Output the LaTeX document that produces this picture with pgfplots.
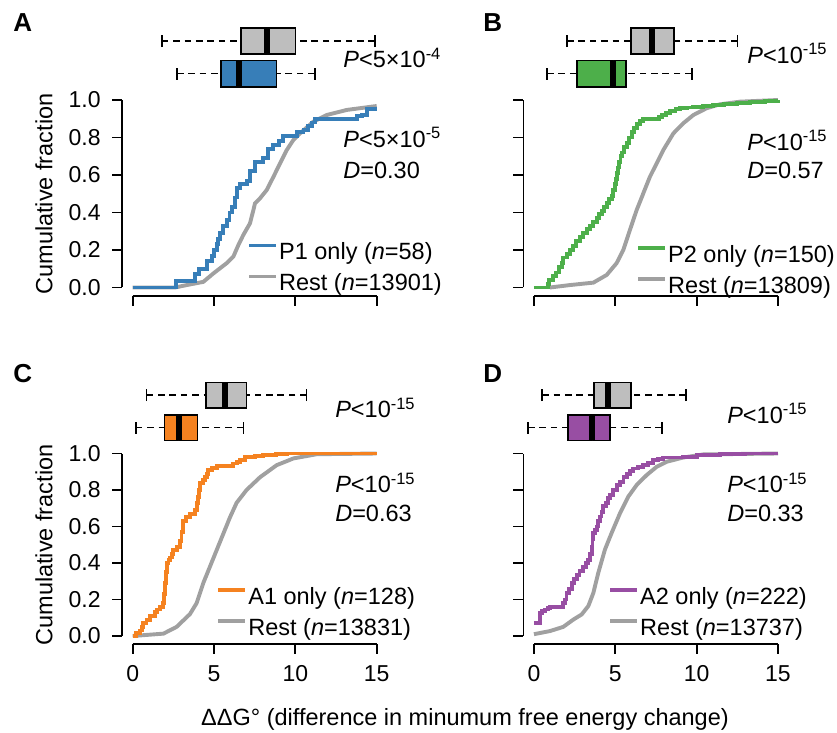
\documentclass[border=0pt]{standalone}
\usepackage{pgfplots}
\pgfplotsset{compat=1.18}
\usepgfplotslibrary{statistics}
\usepackage{fontspec}
\setmainfont{Liberation Sans}

\definecolor{cblue}{HTML}{377EB8}
\definecolor{cgreen}{HTML}{4DAF4A}
\definecolor{corange}{HTML}{F58220}
\definecolor{cpurple}{HTML}{984EA3}
\definecolor{rline}{HTML}{A0A0A0}
\definecolor{rbox}{HTML}{BEBEBE}

\newcommand{\fs}{\fontsize{11.75}{13.5}\selectfont}

\pgfplotsset{
  cdf/.style={
    scale only axis, width=127.3pt,
    xmin=-0.65, xmax=15, ymax=1,
    axis x line*=bottom, axis y line*=left,
    axis line style={line width=0.9pt},
    x axis line style={shorten <=5.3pt},
    xtick={0,5,10,15}, ytick={0,0.2,0.4,0.6,0.8,1},
    tick align=outside, major tick length=5pt,
    tick style={line width=0.9pt, black},
    clip=false,
    /pgf/number format/assume math mode=true,
    tick label style={font=\fontsize{11.5}{13}\selectfont},
    xticklabel style={yshift=-2.3pt},
    yticklabel style={xshift=-2.2pt},
    y tick label style={/pgf/number format/fixed,
      /pgf/number format/fixed zerofill, /pgf/number format/precision=1},
    legend style={draw=none, fill=none, inner sep=0pt, font=\fs,
      row sep=3.1pt, anchor=north west,
      nodes={inner sep=0.5pt, text height=8.8pt, text depth=2.6pt},
      /tikz/every even column/.append style={column sep=1pt}},
    legend cell align=left,
    legend image code/.code={\draw[#1] (0pt,4pt) -- (13.5pt,4pt);},
  },
  toprow/.style={ymin=-0.0453, height=98pt, y axis line style={shorten <=4.25pt}},
  botrow/.style={ymin=-0.0416, height=95.05pt, y axis line style={shorten <=3.8pt}},
  bxp/.style={forget plot, draw=black, line width=0.75pt, fill=#1,
    boxplot/box extend=0.14, boxplot/whisker extend=0.065,
    boxplot/every median/.style={line width=3pt},
    boxplot/draw/lower whisker/.code={
      \draw[line width=0.75pt, dash pattern=on 3.3pt off 2.4pt, fill=none]
        (boxplot cs:\pgfplotsboxplotvalue{lower whisker}) --
        (boxplot cs:\pgfplotsboxplotvalue{lower quartile});
      \draw[line width=0.75pt, fill=none]
        (boxplot whisker cs:\pgfplotsboxplotvalue{lower whisker},0) --
        (boxplot whisker cs:\pgfplotsboxplotvalue{lower whisker},1);
    },
    boxplot/draw/upper whisker/.code={
      \draw[line width=0.75pt, dash pattern=on 3.3pt off 2.4pt, fill=none]
        (boxplot cs:\pgfplotsboxplotvalue{upper whisker}) --
        (boxplot cs:\pgfplotsboxplotvalue{upper quartile});
      \draw[line width=0.75pt, fill=none]
        (boxplot whisker cs:\pgfplotsboxplotvalue{upper whisker},0) --
        (boxplot whisker cs:\pgfplotsboxplotvalue{upper whisker},1);
    },
  },
  cline/.style={line width=1.95pt, #1},
}

\begin{document}
\begin{tikzpicture}[font=\fs]
\useasboundingbox (0,0) rectangle (418.5pt,-366.5pt);

% ---------- A ----------
\begin{axis}[cdf, toprow, at={(61.05pt,-148pt)}, anchor=south west,
  xticklabels={},
  legend style={at={(0.49,0.282)}}]
  \addplot[bxp=rbox, boxplot prepared={lower whisker=1.79, lower quartile=6.67,
    median=8.27, upper quartile=10.0, upper whisker=14.9, draw position=1.315}]
    coordinates {};
  \addplot[bxp=cblue, boxplot prepared={lower whisker=2.72, lower quartile=5.43,
    median=6.54, upper quartile=8.83, upper whisker=11.2, draw position=1.14}]
    coordinates {};
  \addplot[cline=rline, forget plot] coordinates {
    (0,0) (2.6,0) (3.32,0.013) (4.34,0.03) (4.96,0.075) (5.78,0.13) (6.19,0.165)
    (6.5,0.227) (6.8,0.28) (7.21,0.342) (7.42,0.413) (7.52,0.449) (7.83,0.476)
    (8.24,0.52) (8.65,0.59) (9.06,0.662) (9.47,0.733) (9.88,0.787) (10.29,0.822)
    (11.1,0.884) (11.93,0.92) (13.16,0.947) (15,0.968)};
  \addplot[cline=cblue, const plot, forget plot] coordinates {
    (0,0) (2.64,0.035) (3.83,0.07) (4.10,0.10) (4.59,0.14) (4.86,0.17) (5.0,0.2)
    (5.16,0.23) (5.27,0.26) (5.37,0.29) (5.57,0.33) (5.78,0.36) (5.95,0.40)
    (6.09,0.43) (6.3,0.48) (6.43,0.53) (6.60,0.55) (7.0,0.57) (7.21,0.62)
    (7.52,0.67) (8.0,0.69) (8.34,0.74) (8.65,0.76) (9.00,0.78) (9.26,0.81)
    (9.7,0.81) (10.08,0.83) (10.5,0.84) (10.8,0.86) (11.0,0.88) (11.21,0.90)
    (13.77,0.915) (14.1,0.92) (14.39,0.95) (15,0.95)};
  \addlegendimage{cline=cblue}
  \addlegendentry{P1 only (\textit{n}=58)}
  \addlegendimage{cline=rline}
  \addlegendentry{Rest (\textit{n}=13901)}
  \node[anchor=base west, inner sep=0pt] at (axis cs:12.93,1.171)
    {\textit{P}<5×10\textsuperscript{-4}};
  \node[anchor=base west, inner sep=0pt] at (axis cs:12.93,0.749)
    {\textit{P}<5×10\textsuperscript{-5}};
  \node[anchor=base west, inner sep=0pt] at (axis cs:12.93,0.584)
    {\textit{D}=0.30};
\end{axis}

% ---------- B ----------
\begin{axis}[cdf, toprow, at={(261.7pt,-148pt)}, anchor=south west,
  xticklabels={}, yticklabels={},
  legend style={at={(0.442,0.27)}}]
  \addplot[bxp=rbox, boxplot prepared={lower whisker=2.03, lower quartile=5.96,
    median=7.25, upper quartile=8.6, upper whisker=12.5, draw position=1.315}]
    coordinates {};
  \addplot[bxp=cgreen, boxplot prepared={lower whisker=0.8, lower quartile=2.64,
    median=4.86, upper quartile=5.65, upper whisker=9.7, draw position=1.14}]
    coordinates {};
  \addplot[cline=rline, forget plot] coordinates {
    (0.98,0) (2.21,0.013) (3.65,0.026) (4.47,0.067) (5.08,0.13) (5.49,0.2)
    (5.9,0.307) (6.31,0.413) (6.72,0.502) (7.13,0.591) (7.54,0.662) (7.95,0.733)
    (8.57,0.822) (9.18,0.876) (9.80,0.92) (10.61,0.956) (11.43,0.977)
    (12.66,0.991) (15,1.0)};
  \addplot[cline=cgreen, const plot, forget plot] coordinates {
    (0,0) (0.88,0.02) (0.95,0.04) (1.19,0.06) (1.35,0.08) (1.55,0.11) (1.70,0.13)
    (1.80,0.16) (2.01,0.18) (2.2,0.20) (2.42,0.22) (2.6,0.25) (2.83,0.27)
    (3.03,0.29) (3.25,0.31) (3.44,0.33) (3.65,0.35) (3.85,0.37) (4.0,0.39)
    (4.16,0.41) (4.3,0.43) (4.47,0.45) (4.6,0.47) (4.77,0.49) (4.88,0.52)
    (4.98,0.55) (5.05,0.58) (5.12,0.61) (5.18,0.64) (5.25,0.67) (5.32,0.70)
    (5.39,0.72) (5.55,0.75) (5.70,0.77) (5.85,0.80) (6.0,0.83) (6.15,0.85)
    (6.31,0.87) (6.5,0.89) (6.72,0.90) (7.54,0.90) (7.7,0.91) (7.85,0.92)
    (8.1,0.93) (8.36,0.94) (8.7,0.95) (8.98,0.955) (9.4,0.96) (9.80,0.965)
    (10.4,0.97) (11.02,0.975) (11.7,0.98) (12.46,0.985) (13.3,0.99)
    (14.2,0.995) (15,1.0)};
  \addlegendimage{cline=cgreen}
  \addlegendentry{P2 only (\textit{n}=150)}
  \addlegendimage{cline=rline}
  \addlegendentry{Rest (\textit{n}=13809)}
  \node[anchor=base west, inner sep=0pt] at (axis cs:13.09,1.197)
    {\textit{P}<10\textsuperscript{-15}};
  \node[anchor=base west, inner sep=0pt] at (axis cs:13.09,0.733)
    {\textit{P}<10\textsuperscript{-15}};
  \node[anchor=base west, inner sep=0pt] at (axis cs:13.09,0.579)
    {\textit{D}=0.57};
\end{axis}

% ---------- C ----------
\begin{axis}[cdf, botrow, at={(61.05pt,-321.8pt)}, anchor=south west,
  legend style={at={(0.369,0.306)}}]
  \addplot[bxp=rbox, boxplot prepared={lower whisker=0.86, lower quartile=4.5,
    median=5.7, upper quartile=7.0, upper whisker=10.7, draw position=1.32}]
    coordinates {};
  \addplot[bxp=corange, boxplot prepared={lower whisker=0.19, lower quartile=1.97,
    median=2.84, upper quartile=4.0, upper whisker=6.8, draw position=1.142}]
    coordinates {};
  \addplot[cline=rline, forget plot] coordinates {
    (0,0) (1.89,0.013) (2.70,0.05) (3.52,0.12) (3.93,0.18) (4.34,0.29)
    (4.75,0.38) (5.16,0.47) (5.57,0.56) (5.98,0.65) (6.39,0.73) (7.0,0.80)
    (7.83,0.87) (8.85,0.936) (9.88,0.973) (11.31,0.996) (15,1.0)};
  \addplot[cline=corange, const plot, forget plot] coordinates {
    (0,0) (0.2,0.015) (0.45,0.03) (0.55,0.05) (0.66,0.07) (0.85,0.09) (1.07,0.11)
    (1.37,0.13) (1.5,0.145) (1.68,0.16) (1.89,0.18) (1.95,0.23) (1.99,0.29)
    (2.05,0.35) (2.09,0.40) (2.2,0.415) (2.30,0.43) (2.40,0.45) (2.50,0.47)
    (2.7,0.49) (2.91,0.52) (3.0,0.57) (3.11,0.63) (3.3,0.65) (3.52,0.67)
    (3.83,0.69) (3.95,0.73) (4.04,0.76) (4.1,0.80) (4.14,0.84) (4.3,0.855)
    (4.45,0.87) (4.55,0.89) (4.65,0.91) (4.9,0.92) (5.16,0.93) (5.9,0.93)
    (6.19,0.945) (6.4,0.955) (6.6,0.963) (6.9,0.98) (7.5,0.985) (8.03,0.99)
    (8.8,0.995) (9.47,1.0) (15,1.0)};
  \addlegendimage{cline=corange}
  \addlegendentry{A1 only (\textit{n}=128)}
  \addlegendimage{cline=rline}
  \addlegendentry{Rest (\textit{n}=13831)}
  \node[anchor=base west, inner sep=0pt] at (axis cs:12.43,1.195)
    {\textit{P}<10\textsuperscript{-15}};
  \node[anchor=base west, inner sep=0pt] at (axis cs:12.43,0.784)
    {\textit{P}<10\textsuperscript{-15}};
  \node[anchor=base west, inner sep=0pt] at (axis cs:12.43,0.625)
    {\textit{D}=0.63};
\end{axis}

% ---------- D ----------
\begin{axis}[cdf, botrow, at={(261.7pt,-321.8pt)}, anchor=south west,
  yticklabels={},
  legend style={at={(0.332,0.306)}}]
  \addplot[bxp=rbox, boxplot prepared={lower whisker=0.5, lower quartile=3.7,
    median=4.55, upper quartile=5.96, upper whisker=9.34, draw position=1.32}]
    coordinates {};
  \addplot[bxp=cpurple, boxplot prepared={lower whisker=-0.37, lower quartile=2.09,
    median=3.57, upper quartile=4.67, upper whisker=7.87, draw position=1.142}]
    coordinates {};
  \addplot[cline=rline, forget plot] coordinates {
    (0,0.01) (0.98,0.027) (1.8,0.05) (2.42,0.09) (2.93,0.118) (3.34,0.164)
    (3.65,0.236) (3.95,0.345) (4.36,0.473) (4.77,0.564) (5.29,0.673) (5.80,0.764)
    (6.31,0.827) (6.93,0.882) (7.54,0.927) (8.16,0.955) (9.18,0.978)
    (10.41,0.995) (15,1.0)};
  \addplot[cline=cpurple, const plot, forget plot] coordinates {
    (0,0.073) (0.37,0.127) (0.5,0.135) (0.68,0.145) (0.85,0.155) (0.98,0.16)
    (1.8,0.18) (1.9,0.2) (2.0,0.236) (2.15,0.26) (2.32,0.29) (2.45,0.31)
    (2.62,0.336) (2.8,0.355) (3.03,0.38) (3.2,0.40) (3.34,0.418) (3.45,0.45)
    (3.55,0.49) (3.60,0.53) (3.65,0.564) (3.75,0.58) (3.85,0.6) (3.95,0.63)
    (4.06,0.655) (4.15,0.68) (4.26,0.71) (4.4,0.73) (4.57,0.755) (4.7,0.775)
    (4.88,0.8) (5.1,0.825) (5.29,0.845) (5.5,0.87) (5.70,0.89) (5.9,0.905)
    (6.11,0.918) (6.4,0.928) (6.72,0.936) (7.0,0.95) (7.34,0.964) (7.65,0.972)
    (7.95,0.978) (9.18,0.982) (10.0,0.991) (11.43,0.996) (13.0,1.0) (15,1.0)};
  \addlegendimage{cline=cpurple}
  \addlegendentry{A2 only (\textit{n}=222)}
  \addlegendimage{cline=rline}
  \addlegendentry{Rest (\textit{n}=13737)}
  \node[anchor=base west, inner sep=0pt] at (axis cs:11.86,1.167)
    {\textit{P}<10\textsuperscript{-15}};
  \node[anchor=base west, inner sep=0pt] at (axis cs:11.86,0.784)
    {\textit{P}<10\textsuperscript{-15}};
  \node[anchor=base west, inner sep=0pt] at (axis cs:11.86,0.625)
    {\textit{D}=0.33};
\end{axis}

% panel letters and shared labels
\node[anchor=base west, inner sep=0pt, font=\fontsize{13}{15}\selectfont\bfseries]
  at (6.5pt,-16pt) {A};
\node[anchor=base west, inner sep=0pt, font=\fontsize{13}{15}\selectfont\bfseries]
  at (241.5pt,-16pt) {B};
\node[anchor=base west, inner sep=0pt, font=\fontsize{13}{15}\selectfont\bfseries]
  at (6.5pt,-191.5pt) {C};
\node[anchor=base west, inner sep=0pt, font=\fontsize{13}{15}\selectfont\bfseries]
  at (241.5pt,-191.5pt) {D};
\node[rotate=90] at (22pt,-97pt) {Cumulative fraction};
\node[rotate=90] at (22pt,-272.5pt) {Cumulative fraction};
\node[anchor=base] at (232.5pt,-362.5pt) {ΔΔG° (difference in minumum free energy change)};
\end{tikzpicture}
\end{document}
